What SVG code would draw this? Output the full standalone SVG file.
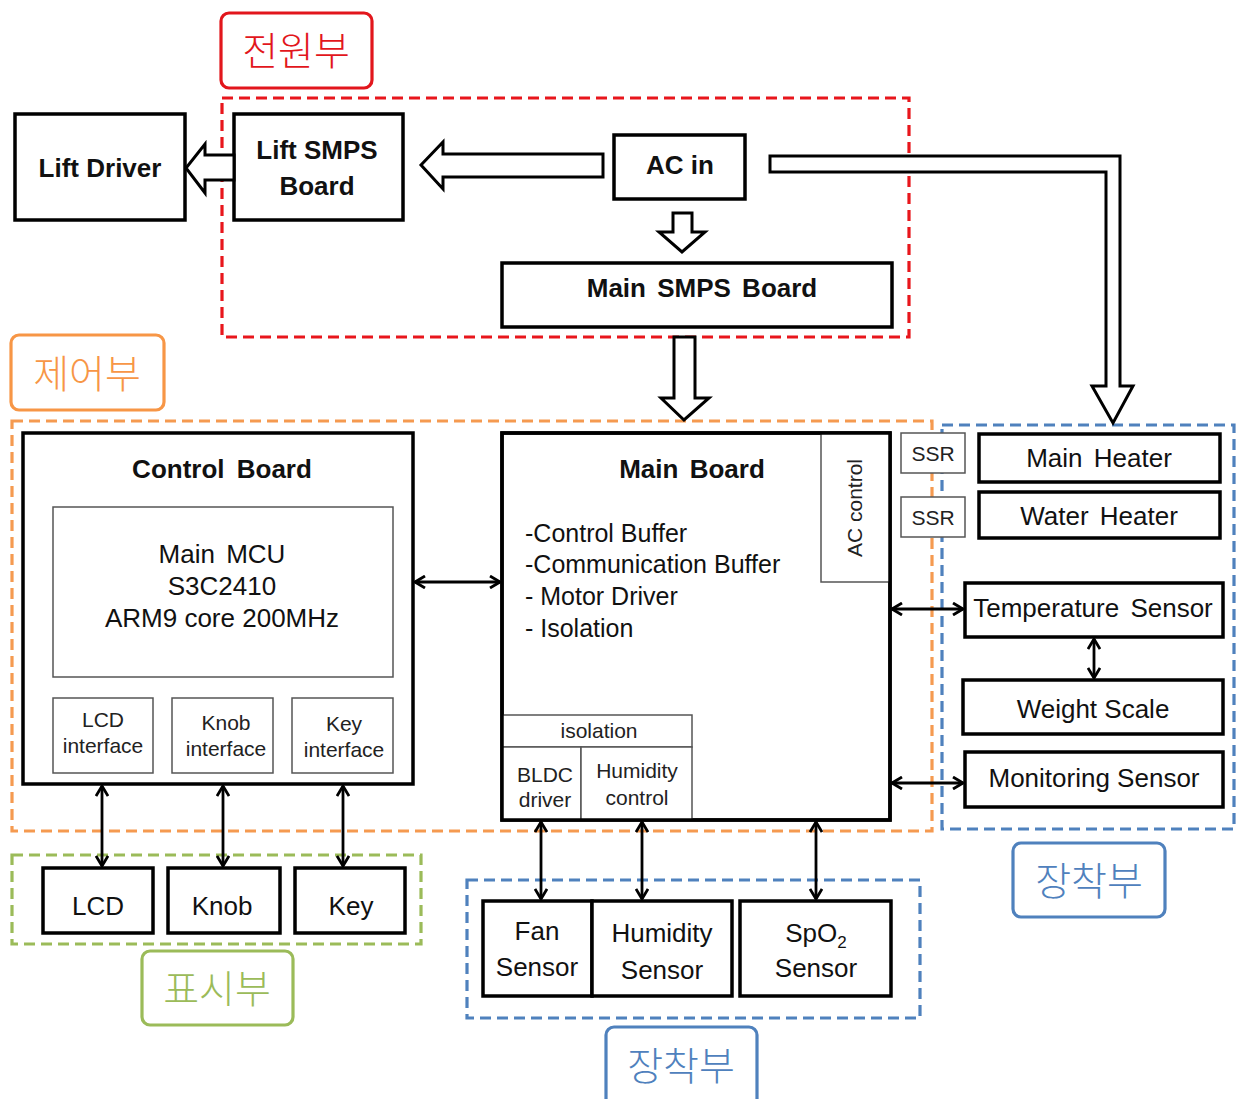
<svg xmlns="http://www.w3.org/2000/svg" width="1236" height="1099" viewBox="0 0 1236 1099">
<defs>
<marker id="ah" viewBox="0 0 14 14" markerWidth="14" markerHeight="14" refX="12" refY="7" orient="auto-start-reverse" markerUnits="userSpaceOnUse">
<path d="M2,1 L12,7 L2,13" fill="none" stroke="#000" stroke-width="2.8"/>
</marker>
<style>
.box{fill:#fff;stroke:#000;stroke-width:3.5}
.thin{fill:#fff;stroke:#555;stroke-width:1.5}
.blk{fill:#fff;stroke:#000;stroke-width:3;stroke-linejoin:miter}
.bi{stroke:#000;stroke-width:2.8;fill:none;marker-start:url(#ah);marker-end:url(#ah)}
.dash{fill:none;stroke-width:3.2;stroke-dasharray:11 6}
.b{font-family:"Liberation Sans",Arial,sans-serif;font-weight:bold;font-size:26px;fill:#111;text-anchor:middle}
.r{font-family:"Liberation Sans",Arial,sans-serif;font-size:26px;fill:#111;text-anchor:middle}
.s{font-family:"Liberation Sans",Arial,sans-serif;font-size:21px;fill:#222;text-anchor:middle}
.l{font-family:"Liberation Sans",Arial,sans-serif;font-size:25px;fill:#111}
.k{font-family:"Noto Sans CJK KR",sans-serif;font-weight:300;font-size:39px;text-anchor:middle}
</style>
</defs>

<!-- region frames -->
<g id="power-region">
<rect x="221" y="13" width="151" height="75" rx="8" fill="#fff" stroke="#e2161c" stroke-width="3.2"/>
<text class="k" x="296" y="65" fill="#e2161c">전원부</text>
<rect class="dash" x="222" y="98" width="687" height="239" stroke="#e8161c"/>
</g>
<g id="control-region">
<rect x="11" y="335" width="153" height="75" rx="8" fill="#fff" stroke="#f79646" stroke-width="3.2"/>
<text class="k" x="87" y="388" fill="#f79646">제어부</text>
<rect class="dash" x="12" y="421" width="920" height="410" stroke="#f59a50"/>
</g>
<g id="display-region">
<rect class="dash" x="12" y="855" width="409" height="89" stroke="#9bbb59"/>
<rect x="142" y="951" width="151" height="74" rx="8" fill="#fff" stroke="#9bbb59" stroke-width="3.2"/>
<text class="k" x="217" y="1003" fill="#9bbb59">표시부</text>
</g>
<g id="mount-region-right">
<rect class="dash" x="942" y="425" width="292" height="404" stroke="#4f81bd"/>
<rect x="1013" y="843" width="152" height="74" rx="8" fill="#fff" stroke="#4f81bd" stroke-width="3.2"/>
<text class="k" x="1089" y="895" fill="#4f81bd">장착부</text>
</g>
<g id="mount-region-bottom">
<rect class="dash" x="467" y="880" width="453" height="138" stroke="#4f81bd"/>
<rect x="606" y="1027" width="151" height="90" rx="8" fill="#fff" stroke="#4f81bd" stroke-width="3.2"/>
<text class="k" x="681" y="1080" fill="#4f81bd">장착부</text>
</g>

<!-- nodes -->
<g id="lift-driver"><rect class="box" x="15" y="114" width="170" height="106"/><text class="b" x="100" y="177" font-size="27">Lift Driver</text></g>
<g id="lift-smps"><rect class="box" x="234" y="114" width="169" height="106"/><text class="b" x="317" y="159">Lift SMPS</text><text class="b" x="317" y="195">Board</text></g>
<g id="ac-in"><rect class="box" x="614" y="135" width="131" height="64"/><text class="b" x="680" y="174">AC in</text></g>
<g id="main-smps"><rect class="box" x="502" y="263" width="390" height="64"/><text class="b" x="702" y="297" word-spacing="4">Main SMPS Board</text></g>

<g id="control-board">
<rect class="box" x="23" y="433" width="390" height="351"/>
<text class="b" x="222" y="478" font-size="25" word-spacing="5">Control Board</text>
<rect class="thin" x="53" y="507" width="340" height="170"/>
<text class="r" x="222" y="563" font-size="25" word-spacing="4">Main MCU</text>
<text class="r" x="222" y="595" font-size="25">S3C2410</text>
<text class="r" x="222" y="627" font-size="25">ARM9 core 200MHz</text>
<rect class="thin" x="53" y="698" width="100" height="75"/>
<text class="s" x="103" y="727">LCD</text><text class="s" x="103" y="753">interface</text>
<rect class="thin" x="172" y="698" width="101" height="75"/>
<text class="s" x="226" y="730">Knob</text><text class="s" x="226" y="756">interface</text>
<rect class="thin" x="292" y="698" width="101" height="75"/>
<text class="s" x="344" y="731">Key</text><text class="s" x="344" y="757">interface</text>
</g>

<g id="main-board">
<rect class="box" x="502" y="433" width="388" height="387"/>
<text class="b" x="692" y="478" word-spacing="4">Main Board</text>
<text class="l" x="525" y="542">-Control Buffer</text>
<text class="l" x="525" y="573">-Communication Buffer</text>
<text class="l" x="525" y="605">- Motor Driver</text>
<text class="l" x="525" y="637">- Isolation</text>
<rect class="thin" x="821" y="433" width="69" height="149"/>
<text class="s" x="0" y="0" transform="translate(862,508) rotate(-90)">AC control</text>
<rect class="thin" x="502" y="715" width="190" height="32"/>
<text class="s" x="599" y="738">isolation</text>
<rect class="thin" x="502" y="747" width="79" height="73"/>
<rect class="thin" x="581" y="747" width="111" height="73"/>
<text class="s" x="545" y="782">BLDC</text><text class="s" x="545" y="807">driver</text>
<text class="s" x="637" y="778">Humidity</text><text class="s" x="637" y="805">control</text>
<rect x="502" y="433" width="388" height="387" fill="none" stroke="#000" stroke-width="3.5"/>
</g>

<g id="ssr-1"><rect class="thin" x="901" y="433" width="64" height="40"/><text class="s" x="933" y="461" font-size="19" fill="#555">SSR</text></g>
<g id="ssr-2"><rect class="thin" x="901" y="497" width="64" height="40"/><text class="s" x="933" y="525" font-size="19" fill="#555">SSR</text></g>

<g id="main-heater"><rect class="box" x="979" y="434" width="241" height="48"/><text class="r" x="1099" y="467" word-spacing="4">Main Heater</text></g>
<g id="water-heater"><rect class="box" x="979" y="492" width="241" height="46"/><text class="r" x="1099" y="525" word-spacing="4">Water Heater</text></g>
<g id="temp-sensor"><rect class="box" x="965" y="583" width="258" height="54"/><text class="r" x="1093" y="617" font-size="25" word-spacing="4">Temperature Sensor</text></g>
<g id="weight-scale"><rect class="box" x="963" y="680" width="260" height="54"/><text class="r" x="1093" y="718" font-size="27">Weight Scale</text></g>
<g id="monitoring-sensor"><rect class="box" x="965" y="752" width="258" height="55"/><text class="r" x="1094" y="787" font-size="27">Monitoring Sensor</text></g>

<g id="lcd"><rect class="box" x="43" y="868" width="110" height="65"/><text class="r" x="98" y="915">LCD</text></g>
<g id="knob"><rect class="box" x="168" y="868" width="112" height="65"/><text class="r" x="222" y="915">Knob</text></g>
<g id="key"><rect class="box" x="295" y="868" width="110" height="65"/><text class="r" x="351" y="915">Key</text></g>

<g id="fan-sensor"><rect class="box" x="483" y="901" width="109" height="95"/><text class="r" x="537" y="940">Fan</text><text class="r" x="537" y="976">Sensor</text></g>
<g id="humidity-sensor"><rect class="box" x="592" y="901" width="140" height="95"/><text class="r" x="662" y="942" font-size="27">Humidity</text><text class="r" x="662" y="979" font-size="27">Sensor</text></g>
<g id="spo2-sensor"><rect class="box" x="740" y="901" width="151" height="95"/><text class="r" x="816" y="942">SpO<tspan font-size="17" dy="6">2</tspan></text><text class="r" x="816" y="977">Sensor</text></g>

<!-- connectors -->
<g id="connectors">
<polygon class="blk" points="234,155 205,155 205,144 186,168 205,193 205,180 234,180"/>
<polygon class="blk" points="603,154 443,154 443,142 421,165 443,189 443,177 603,177"/>
<polygon class="blk" points="673,213 692,213 692,232 705,232 682,252 659,232 673,232"/>
<polygon class="blk" points="674,337 695,337 695,398 709,398 684,420 661,398 674,398"/>
<polygon class="blk" points="770,156 1120,156 1120,386 1133,386 1113,423 1092,386 1106,386 1106,172 770,172"/>
<line class="bi" x1="415" y1="582" x2="500" y2="582"/>
<line class="bi" x1="892" y1="609" x2="963" y2="609"/>
<line class="bi" x1="892" y1="783" x2="963" y2="783"/>
<line class="bi" x1="1094" y1="639" x2="1094" y2="678"/>
<line class="bi" x1="102" y1="786" x2="102" y2="866"/>
<line class="bi" x1="223" y1="786" x2="223" y2="866"/>
<line class="bi" x1="343" y1="786" x2="343" y2="866"/>
<line class="bi" x1="541" y1="822" x2="541" y2="899"/>
<line class="bi" x1="642" y1="822" x2="642" y2="899"/>
<line class="bi" x1="816" y1="822" x2="816" y2="899"/>
</g>
</svg>
